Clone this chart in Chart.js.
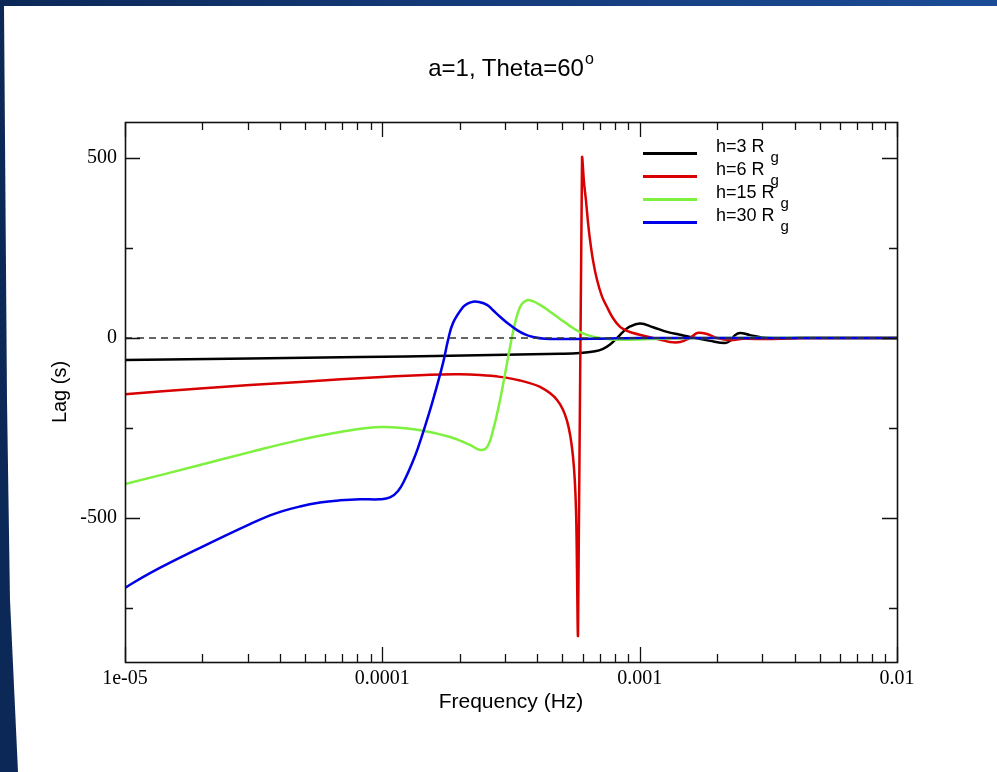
<!DOCTYPE html>
<html>
<head>
<meta charset="utf-8">
<title>Lag vs frequency</title>
<script src="https://cdn.jsdelivr.net/npm/chart.js@4.4.0/dist/chart.umd.min.js"></script>
<style>
    html, body { margin: 0; padding: 0; }
    body {
        width: 997px; height: 772px; overflow: hidden; position: relative;
        background: linear-gradient(90deg, #0b2857 0%, #143a78 45%, #1b4c96 100%);
        font-family: "Liberation Sans", Arial, sans-serif;
    }
    #sheet {
        position: absolute; left: 0; top: 0; width: 997px; height: 772px; background: #fff;
        clip-path: polygon(4px 6px, 997px 6px, 997px 772px, 18px 772px, 10px 600px, 7px 400px);
    }
    #myChart { position: absolute; left: 0; top: 0; }
    #title {
        position: absolute; left: 125px; width: 772px; top: 54px;
        text-align: center; font-size: 24px; line-height: 28px; color: #000;
    }
    #title sup { font-size: 16px; position: relative; top: -9px; vertical-align: top; margin-left: 1px; }
    .row { position: absolute; left: 643px; height: 30px; width: 200px; }
    .row .swatch { position: absolute; left: 0; top: 14px; width: 54px; height: 2.5px; }
    .row .lbl { position: absolute; left: 73px; top: -1px; font-size: 18px; line-height: 18px; color: #000; white-space: nowrap; }
    .row .lbl span { font-size: 15px; position: relative; top: 10px; margin-left: 6px; }
</style>
</head>
<body>
<div id="sheet"></div>
<canvas id="myChart" width="997" height="772"></canvas>
<div id="title">a=1, Theta=60<sup>o</sup></div>
<div id="legend"></div>
<script>
// h = 3 Rg
const freqH3 = [1e-5, 3.06e-5, 8.19e-5, 1.833e-4, 4.905e-4, 5.865e-4, 6.708e-4, 7.206e-4, 7.672e-4, 8.168e-4, 8.618e-4, 9.176e-4, 1.004e-3, 1.127e-3, 1.278e-3, 1.436e-3, 1.570e-3, 1.878e-3, 2.147e-3, 2.246e-3, 2.348e-3, 2.456e-3, 2.686e-3, 3.127e-3, 4.202e-3, 1e-2];
const lagH3 = [-61, -57, -53, -49, -44, -42, -37, -30, -18, 0, 17, 32, 40, 30, 17, 9, 3, -8, -14, -8, 8, 14, 8, 0, 0, 0];

// h = 6 Rg
const freqH6 = [1e-5, 1.957e-5, 4.787e-5, 9.97e-5, 1.532e-4, 2.004e-4, 2.397e-4, 2.867e-4, 3.429e-4, 4.101e-4, 4.775e-4, 5.221e-4, 5.509e-4, 5.659e-4, 5.761e-4, 5.971e-4, 6.080e-4, 6.189e-4, 6.301e-4, 6.415e-4, 6.589e-4, 6.830e-4, 7.142e-4, 7.469e-4, 7.881e-4, 8.390e-4, 8.932e-4, 9.426e-4, 1.127e-3, 1.313e-3, 1.436e-3, 1.570e-3, 1.672e-3, 1.828e-3, 1.999e-3, 2.246e-3, 2.523e-3, 3.212e-3, 4.202e-3, 1e-2];
const lagH6 = [-156, -140, -122, -108, -102, -101, -103, -108, -118, -136, -172, -230, -330, -480, -820, 500, 430, 380, 320, 272, 215, 161, 115, 86, 55, 31, 20, 14, 0, -11, -11, 0, 14, 11, 0, -6, -2, -3, 0, 0];

// h = 15 Rg
const freqH15 = [1e-5, 1.957e-5, 3.06e-5, 4.787e-5, 6.849e-5, 9.97e-5, 1.401e-4, 1.833e-4, 2.192e-4, 2.397e-4, 2.552e-4, 2.693e-4, 2.867e-4, 2.998e-4, 3.135e-4, 3.250e-4, 3.368e-4, 3.491e-4, 3.650e-4, 3.818e-4, 4.101e-4, 4.485e-4, 4.905e-4, 5.364e-4, 5.865e-4, 6.415e-4, 7.020e-4, 8.390e-4, 1.098e-3, 1.717e-3, 1e-2];
const lagH15 = [-406, -353, -317, -283, -261, -247, -256, -275, -297, -311, -303, -256, -172, -100, -25, 30, 72, 95, 105, 103, 92, 73, 53, 33, 16, 6, 0, -5, -3, 0, 0];

// h = 30 Rg
const freqH30 = [1e-5, 1.251e-5, 1.957e-5, 3.06e-5, 3.828e-5, 4.787e-5, 5.727e-5, 6.849e-5, 8.191e-5, 9.796e-5, 1.071e-4, 1.151e-4, 1.225e-4, 1.305e-4, 1.376e-4, 1.466e-4, 1.574e-4, 1.722e-4, 1.800e-4, 1.883e-4, 2.059e-4, 2.153e-4, 2.252e-4, 2.376e-4, 2.552e-4, 2.693e-4, 2.867e-4, 3.080e-4, 3.338e-4, 3.586e-4, 3.852e-4, 4.288e-4, 4.905e-4, 7.020e-4, 1.004e-3, 1e-2];
const lagH30 = [-694, -653, -583, -517, -488, -468, -457, -451, -448, -448, -443, -425, -392, -348, -305, -245, -172, -69, -6, 42, 86, 96, 101, 100, 92, 77, 59, 40, 22, 10, 3, -2, -3, -2, 0, 0];

const zeroFreq = [1e-5, 1e-2];
const zeroLag = [0, 0];

const seriesLabels = ["h=3", "h=6", "h=15", "h=30"];
const seriesColors = ["#000000", "#d80000", "#7ef03e", "#0000e8"];

const xTickValues = [1e-5, 1e-4, 1e-3, 1e-2];
const xTickLabels = ["1e-05", "0.0001", "0.001", "0.01"];
const yTickValues = [-750, -500, -250, 0, 250, 500];
const yLabelValues = [-500, 0, 500];

function pts(fs, ls) {
    return fs.map(function (f, i) { return { x: f, y: ls[i] }; });
}

// every 1..9 step inside each decade gets a tick mark
const xAllTicks = [];
xTickValues.forEach(function (d, i) {
    if (i === xTickValues.length - 1) { xAllTicks.push(d); return; }
    for (let m = 1; m < 10; m++) xAllTicks.push(+(m * d).toPrecision(3));
});

const frameTicks = {
    id: "frameTicks",
    afterDatasetsDraw(chart) {
        const { ctx, chartArea: a, scales } = chart;
        const x = scales.x, y = scales.y;
        ctx.save();
        ctx.strokeStyle = "#111";
        ctx.lineWidth = 1.3;
        ctx.beginPath();
        xAllTicks.forEach(function (v) {
            const px = Math.round(x.getPixelForValue(v)) + 0.5;
            const len = xTickValues.includes(v) ? 15 : 8;
            ctx.moveTo(px, a.bottom); ctx.lineTo(px, a.bottom - len);
            ctx.moveTo(px, a.top); ctx.lineTo(px, a.top + len);
        });
        yTickValues.forEach(function (v) {
            const py = Math.round(y.getPixelForValue(v)) + 0.5;
            const len = yLabelValues.includes(v) ? 15 : 8;
            ctx.moveTo(a.left, py); ctx.lineTo(a.left + len, py);
            ctx.moveTo(a.right, py); ctx.lineTo(a.right - len, py);
        });
        ctx.stroke();
        ctx.lineWidth = 1.6;
        ctx.strokeRect(Math.round(a.left) + 0.5, Math.round(a.top) + 0.5, Math.round(a.right - a.left), Math.round(a.bottom - a.top));
        ctx.restore();
    },
};

const serifFont = "'Liberation Serif', 'Times New Roman', serif";
const sansFont = "'Liberation Sans', Arial, sans-serif";

const ctx = document.getElementById("myChart");

new Chart(ctx, {
    type: "line",
    data: {
        datasets: [
            { label: "zero", data: pts(zeroFreq, zeroLag), borderColor: "#333", borderWidth: 1.4, borderDash: [7, 5], order: 0, tension: 0 },
            { label: seriesLabels[3], data: pts(freqH30, lagH30), borderColor: seriesColors[3], order: 1 },
            { label: seriesLabels[2], data: pts(freqH15, lagH15), borderColor: seriesColors[2], order: 2 },
            { label: seriesLabels[1], data: pts(freqH6, lagH6), borderColor: seriesColors[1], order: 3, tension: 0.3 },
            { label: seriesLabels[0], data: pts(freqH3, lagH3), borderColor: seriesColors[0], order: 4 },
        ],
    },
    options: {
        responsive: false,
        animation: false,
        devicePixelRatio: 1,
        layout: { padding: { top: 122, right: 100, left: 0, bottom: 0 } },
        elements: {
            point: { radius: 0 },
            line: { borderWidth: 2.5, tension: 0.4, fill: false },
        },
        plugins: {
            legend: { display: false },
            tooltip: { enabled: false },
            title: { display: false },
        },
        scales: {
            x: {
                type: "logarithmic",
                min: 1e-5,
                max: 1e-2,
                afterFit: function (s) { s.height = 110; },
                afterBuildTicks: function (s) { s.ticks = xAllTicks.map(function (v) { return { value: v }; }); },
                grid: { display: false, drawTicks: false },
                border: { display: false },
                ticks: {
                    autoSkip: false,
                    maxRotation: 0,
                    padding: 5,
                    color: "#000",
                    font: { family: serifFont, size: 20 },
                    callback: function (v) {
                        const i = xTickValues.indexOf(v);
                        return i >= 0 ? xTickLabels[i] : "";
                    },
                },
                title: { display: true, text: "Frequency (Hz)", color: "#000", font: { family: sansFont, size: 21 }, padding: { top: 0, bottom: 57 } },
            },
            y: {
                type: "linear",
                min: -900,
                max: 600,
                afterFit: function (s) { s.width = 125; },
                afterBuildTicks: function (s) { s.ticks = yTickValues.map(function (v) { return { value: v }; }); },
                grid: { display: false, drawTicks: false },
                border: { display: false },
                ticks: {
                    padding: 8,
                    color: "#000",
                    font: { family: serifFont, size: 20 },
                    callback: function (v) { return yLabelValues.includes(v) ? String(v) : ""; },
                },
                title: { display: true, text: "Lag (s)", color: "#000", font: { family: sansFont, size: 20 }, padding: { top: 48, bottom: 0 } },
            },
        },
    },
    plugins: [frameTicks],
});

// legend with subscripted g, built from the series arrays
const legend = document.getElementById("legend");
seriesLabels.forEach(function (lab, i) {
    const row = document.createElement("div");
    row.className = "row";
    row.style.top = (153 + 23 * i - 15) + "px";
    row.innerHTML = '<div class="swatch" style="background:' + seriesColors[i] + '"></div>' +
        '<div class="lbl">' + lab + ' R<span>g</span></div>';
    legend.appendChild(row);
});
</script>
</body>
</html>
